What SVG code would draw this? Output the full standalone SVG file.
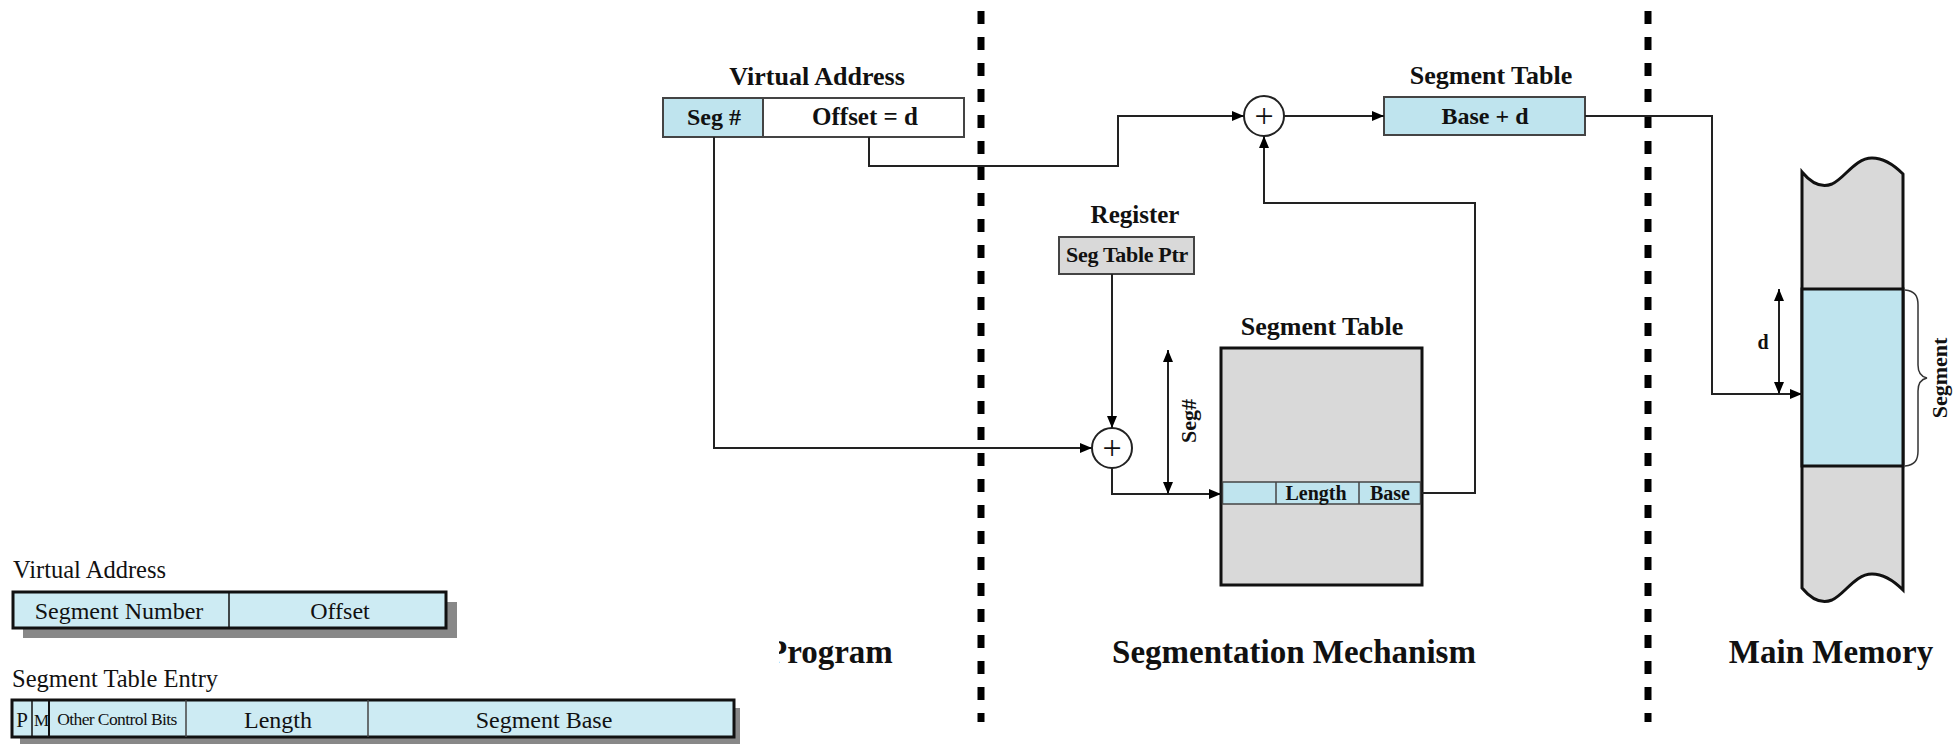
<svg xmlns="http://www.w3.org/2000/svg" width="1960" height="744" viewBox="0 0 1960 744">
<defs>
<marker id="ah" viewBox="0 0 12 10" refX="12" refY="5" markerWidth="12" markerHeight="10" markerUnits="userSpaceOnUse" orient="auto-start-reverse"><path d="M0,0 L12,5 L0,10 Z" fill="#000"/></marker>
<clipPath id="clipProg"><rect x="779" y="600" width="200" height="100"/></clipPath>
</defs>
<style>
.b{font-family:"Liberation Serif","Times New Roman",serif;font-weight:bold;fill:#111}
.n{font-family:"Liberation Serif","Times New Roman",serif;fill:#111}
.conn{fill:none;stroke:#222;stroke-width:2}
.blue{fill:#bfe4ee}
.lblue{fill:#cdebf3}
.gray{fill:#d9d9d9}
.thin{stroke:#444;stroke-width:2}
.thick{stroke:#111;stroke-width:3}
.sep{stroke:#000;stroke-width:7;stroke-dasharray:13 13}
</style>
<g id="separators">
<line class="sep" x1="981" y1="11" x2="981" y2="722"/>
<line class="sep" x1="1648" y1="11" x2="1648" y2="722"/>
</g>
<g id="va-top">
<text class="b" x="817" y="85" font-size="26" text-anchor="middle">Virtual Address</text>
<rect x="663" y="98" width="100" height="39" class="blue thin"/>
<rect x="763" y="98" width="201" height="39" fill="#fff" class="thin"/>
<text class="b" x="714" y="125" font-size="24" text-anchor="middle">Seg #</text>
<text class="b" x="865" y="125" font-size="25" text-anchor="middle">Offset = d</text>
</g>
<g id="adder-top">
<circle cx="1264" cy="116" r="20" fill="#fff" stroke="#222" stroke-width="2"/>
<text class="n" x="1264" y="127" font-size="34" text-anchor="middle">+</text>
</g>
<g id="st-top">
<text class="b" x="1491" y="84" font-size="26" text-anchor="middle">Segment Table</text>
<rect x="1384" y="97" width="201" height="38" class="blue thin"/>
<text class="b" x="1485" y="124" font-size="24" text-anchor="middle">Base + d</text>
</g>
<g id="register">
<text class="b" x="1135" y="223" font-size="25" text-anchor="middle">Register</text>
<rect x="1059" y="237" width="135" height="37" class="gray thin"/>
<text class="b" x="1127" y="262" font-size="22" text-anchor="middle" letter-spacing="-0.3">Seg Table Ptr</text>
</g>
<g id="adder-mid">
<circle cx="1112" cy="448" r="20" fill="#fff" stroke="#222" stroke-width="2"/>
<text class="n" x="1112" y="459" font-size="34" text-anchor="middle">+</text>
</g>
<g id="segtable">
<text class="b" x="1322" y="335" font-size="26" text-anchor="middle">Segment Table</text>
<rect x="1221" y="348" width="201" height="237" class="gray thick"/>
<rect x="1222.5" y="482" width="198" height="22" class="blue" stroke="#444" stroke-width="1.5"/>
<line x1="1276" y1="482" x2="1276" y2="504" stroke="#444" stroke-width="1.5"/>
<line x1="1359" y1="482" x2="1359" y2="504" stroke="#444" stroke-width="1.5"/>
<text class="b" x="1316" y="500" font-size="20" text-anchor="middle">Length</text>
<text class="b" x="1390" y="500" font-size="20" text-anchor="middle">Base</text>
<text class="b" font-size="22" text-anchor="middle" transform="translate(1196,421) rotate(-90)">Seg#</text>
</g>
<g id="memory">
<path d="M1802,172 C1812,184 1822,188 1832,184 C1845,178 1855,158 1872,158 C1885,158 1895,166 1903,174 L1903,590 C1895,582 1885,574 1872,574 C1855,574 1845,594 1832,600 C1822,604 1812,600 1802,588 Z" class="gray thick"/>
<rect x="1802" y="289" width="101" height="177" class="blue thick"/>
<path d="M1905,290 C1915,291 1918,296 1918,305 L1918,365 C1918,373 1922,377 1927,378 C1922,379 1918,383 1918,391 L1918,451 C1918,460 1915,465 1905,466" fill="none" stroke="#333" stroke-width="1.5"/>
<text class="b" font-size="22" text-anchor="middle" transform="translate(1947,378) rotate(-90)">Segment</text>
<text class="b" x="1763" y="349" font-size="20" text-anchor="middle">d</text>
</g>
<g id="connectors">
<polyline class="conn" points="714,137 714,448 1092,448" marker-end="url(#ah)"/>
<polyline class="conn" points="869,137 869,166 1118,166 1118,116 1244,116" marker-end="url(#ah)"/>
<line class="conn" x1="1284" y1="116" x2="1384" y2="116" marker-end="url(#ah)"/>
<polyline class="conn" points="1422,493 1475,493 1475,203 1264,203 1264,136" marker-end="url(#ah)"/>
<line class="conn" x1="1112" y1="274" x2="1112" y2="428" marker-end="url(#ah)"/>
<polyline class="conn" points="1112,468 1112,494 1221,494" marker-end="url(#ah)"/>
<line class="conn" x1="1168" y1="350" x2="1168" y2="494" marker-start="url(#ah)" marker-end="url(#ah)"/>
<polyline class="conn" points="1585,116 1712,116 1712,394 1802,394" marker-end="url(#ah)"/>
<line class="conn" x1="1779" y1="289" x2="1779" y2="394" marker-start="url(#ah)" marker-end="url(#ah)"/>
</g>
<g id="labels">
<text class="b" x="767" y="663" font-size="33" clip-path="url(#clipProg)">Program</text>
<text class="b" x="1294" y="663" font-size="33" text-anchor="middle">Segmentation Mechanism</text>
<text class="b" x="1831" y="663" font-size="33" text-anchor="middle">Main Memory</text>
</g>
<g id="legend-va">
<text class="n" x="13" y="578" font-size="24.5">Virtual Address</text>
<rect x="23" y="602" width="434" height="36" fill="#888"/>
<rect x="13" y="592" width="433" height="36" class="lblue thick"/>
<line x1="229" y1="592" x2="229" y2="628" stroke="#111" stroke-width="1.5"/>
<text class="n" x="119" y="619" font-size="24" text-anchor="middle">Segment Number</text>
<text class="n" x="340" y="619" font-size="24" text-anchor="middle">Offset</text>
</g>
<g id="legend-entry">
<text class="n" x="12" y="687" font-size="24.5">Segment Table Entry</text>
<rect x="20" y="708" width="720" height="37" fill="#888"/>
<rect x="12" y="700" width="722" height="37" class="lblue thick"/>
<line x1="32" y1="700" x2="32" y2="737" stroke="#111" stroke-width="1.5"/>
<line x1="49" y1="700" x2="49" y2="737" stroke="#111" stroke-width="2"/>
<line x1="186" y1="700" x2="186" y2="737" stroke="#444" stroke-width="1.5"/>
<line x1="368" y1="700" x2="368" y2="737" stroke="#444" stroke-width="1.5"/>
<text class="n" x="22" y="727" font-size="21" text-anchor="middle">P</text>
<text class="n" x="41" y="726" font-size="17" text-anchor="middle" letter-spacing="-1">M</text>
<text class="n" x="117" y="725" font-size="17.5" text-anchor="middle" letter-spacing="-0.6">Other Control Bits</text>
<text class="n" x="278" y="728" font-size="24" text-anchor="middle">Length</text>
<text class="n" x="544" y="728" font-size="24" text-anchor="middle">Segment Base</text>
</g>
</svg>
